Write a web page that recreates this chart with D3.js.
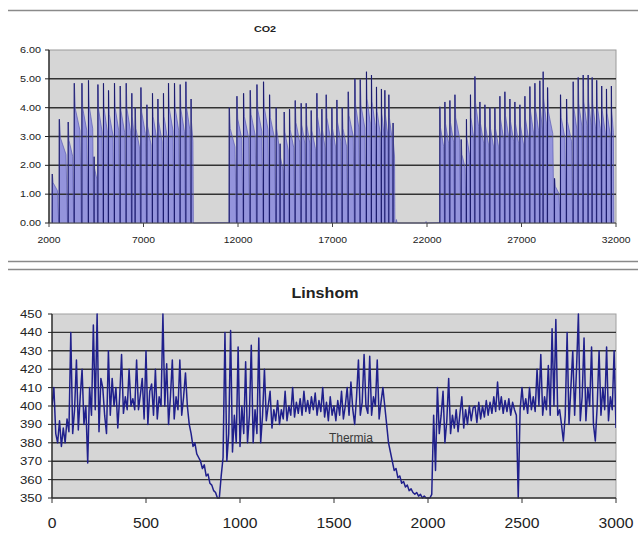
<!DOCTYPE html>
<html><head><meta charset="utf-8">
<script src="https://cdn.jsdelivr.net/npm/d3@7"></script>
<style>body{margin:0;background:#fff}svg{display:block}text{font-family:Arial,"Liberation Sans",sans-serif;fill:#222}</style>
</head><body><svg id="c" width="638" height="541"></svg>
<script>
// ---------- data: CO2 ----------
const co2Title = "CO2";
const co2XTicks = [2000, 7000, 12000, 17000, 22000, 27000, 32000];
const co2YTicks = [0, 1, 2, 3, 4, 5, 6];
const co2SpikeT = [
  2159, 2529, 3005, 3323, 3730, 4079, 4381, 4577, 4873, 5138, 5455, 5757, 6074, 6376, 6550, 6852, 7169, 7466, 7751, 8048, 8312, 8630, 8931, 9233, 9513,
  11524, 11931, 12281, 12635, 12990, 13339, 13657, 14011, 14222, 14434, 14715, 15016, 15333, 15598, 15862, 16164, 16429, 16656, 16958, 17222, 17503, 17820, 18175, 18455, 18788, 19053, 19318, 19582, 19762, 19973, 20201,
  22672, 22937, 23201, 23466, 23800, 24080, 24292, 24525, 24789, 25054, 25318, 25582, 25847, 26111, 26376, 26640, 26905, 27170, 27434, 27699, 27963, 28138, 28365, 28736, 29053, 29371, 29725, 29990, 30254, 30519, 30730, 30968, 31233, 31487, 31751
];
const co2SpikePeak = [
  1.7, 3.6, 3.5, 4.85, 4.85, 4.95, 2.3, 4.8, 4.85, 4.6, 4.85, 4.75, 4.85, 4.5, 4.0, 4.7, 4.1, 4.5, 4.3, 4.5, 4.85, 4.85, 4.8, 4.9, 4.3,
  4.0, 4.4, 4.5, 4.6, 4.8, 4.9, 4.45, 4.0, 2.75, 3.85, 3.95, 4.25, 4.15, 4.15, 3.9, 4.5, 3.95, 4.45, 4.0, 4.27, 4.0, 4.55, 5.0, 4.98, 5.25, 5.13, 4.72, 4.65, 4.6, 4.45, 3.47,
  4.03, 4.2, 4.25, 4.45, 2.9, 3.6, 4.45, 5.08, 4.2, 4.1, 4.0, 4.0, 4.4, 4.55, 4.3, 4.2, 4.1, 4.4, 4.73, 4.85, 4.93, 5.25, 4.7, 1.55, 4.45, 4.3, 4.9, 5.05, 5.13, 5.13, 5.05, 4.95, 4.75, 4.65, 4.75
];
const co2RegionEnd = [9645, 20307, 31895];
const co2BlipT = [20380, 21950];
const co2BlipV = [0.12, 0.05];

// ---------- data: Linshom ----------
const linTitle = "Linshom";
const linXTicks = [0, 500, 1000, 1500, 2000, 2500, 3000];
const linYTicks = [350, 360, 370, 380, 390, 400, 410, 420, 430, 440, 450];
const linStep = 10;
const linValues = [
  400,410,385,380,392,378,388,380,393,386,
  440,385,398,425,387,405,420,390,400,369,
  410,395,444,398,450,386,415,410,395,385,
  430,395,415,400,410,388,405,428,396,405,
  398,420,400,404,398,425,398,406,415,393,
  430,390,408,412,395,420,393,405,400,450,
  400,423,390,405,425,393,405,398,425,395,
  405,418,400,390,385,378,380,374,372,370,
  366,368,362,363,358,357,354,353,350,350,
  362,372,440,370,385,441,375,395,380,432,
  378,400,385,424,380,395,433,380,398,385,
  437,380,395,420,392,400,408,388,398,392,
  403,390,398,393,408,392,400,395,410,394,
  402,396,404,395,408,397,403,396,405,398,
  407,395,403,397,410,394,402,392,405,395,
  400,392,403,395,408,393,400,410,395,413,
  398,390,405,425,395,402,428,400,396,427,
  395,405,400,425,393,402,410,400,390,380,
  375,370,365,366,361,362,358,359,356,357,
  354,355,353,352,353,351,352,350,351,350,
  350,350,352,395,365,410,385,395,408,380,
  392,415,385,395,388,398,386,396,405,388,
  398,390,400,392,399,400,391,402,393,400,
  394,403,395,402,396,405,397,413,398,405,
  396,403,397,404,395,402,398,395,350,398,
  410,398,404,396,410,398,405,397,420,400,
  428,395,405,398,422,395,442,400,447,395,
  398,390,381,395,440,390,410,430,395,420,
  450,392,405,437,392,410,400,432,390,381,
  400,430,395,410,398,432,392,405,398,430,
  388
];
const linNote = "Thermia";
const linNoteX = 1590, linNoteY = 382.6;

// ---------- drawing ----------
const svg = d3.select("#c");
const PLOT_BG = "#d6d6d6", GRID = "#333", LINE = "#20208c";

function label(g, x, y, s, size, anchor, sx, weight) {
  g.append("text")
    .attr("transform", `translate(${x},${y}) scale(${sx},1)`)
    .attr("text-anchor", anchor)
    .attr("font-size", size)
    .attr("font-weight", weight || "normal")
    .text(s);
}

[10.5, 261.5, 269.5].forEach(y => {
  svg.append("line").attr("x1", 8).attr("x2", 638).attr("y1", y).attr("y2", y)
    .attr("stroke", "#8a8a8a").attr("stroke-width", 1.5);
});

// ===== CO2 chart =====
{
  const x = d3.scaleLinear().domain([2000, 32000]).range([49, 616]);
  const y = d3.scaleLinear().domain([0, 6]).range([223, 50]);
  const g = svg.append("g");
  g.append("rect").attr("x", 49).attr("y", 50).attr("width", 567).attr("height", 173)
    .attr("fill", PLOT_BG).attr("stroke", "#9a9a9a").attr("stroke-width", 1);

  const pts = [];
  const verticals = [];
  co2SpikeT.forEach((t, i) => {
    const regEnd = co2RegionEnd.find(e => e >= t);
    const nxt = co2SpikeT[i + 1];
    const end = (nxt !== undefined && nxt < regEnd) ? nxt : regEnd;
    const w = end - t, p = co2SpikePeak[i];
    pts.push([t, 0.02], [t + 0.05 * w, p], [t + 0.16 * w, 0.82 * p], [t + 0.78 * w, 0.66 * p], [t + 0.94 * w, 0.05]);
    if (end === regEnd) pts.push([end, 0]);
    verticals.push([t + 0.03 * w, p]);
  });
  co2BlipT.forEach((t, i) => { pts.push([t - 40, 0], [t, co2BlipV[i]], [t + 40, 0]); });
  pts.sort((a, b) => a[0] - b[0]);

  const area = d3.area().x(d => x(d[0])).y0(y(0)).y1(d => y(d[1]));
  const line = d3.line().x(d => x(d[0])).y(d => y(d[1]));
  g.append("path").datum(pts).attr("d", area).attr("fill", "#9494dc");

  g.selectAll(".gl").data(co2YTicks.filter(v => v > 0 && v < 6)).join("line")
    .attr("x1", 49).attr("x2", 616).attr("y1", d => y(d)).attr("y2", d => y(d))
    .attr("stroke", GRID).attr("stroke-width", 1.5);

  g.append("path").datum(pts).attr("d", line).attr("fill", "none")
    .attr("stroke", "#5a5ab4").attr("stroke-width", 0.7);
  g.selectAll(".sp").data(verticals).join("line")
    .attr("x1", d => x(d[0])).attr("x2", d => x(d[0]))
    .attr("y1", y(0)).attr("y2", d => y(d[1]))
    .attr("stroke", "#1c1c6e").attr("stroke-width", 1.1);

  g.append("line").attr("x1", 49).attr("x2", 49).attr("y1", 50).attr("y2", 223).attr("stroke", "#222").attr("stroke-width", 1.3);
  g.append("line").attr("x1", 49).attr("x2", 616).attr("y1", 223).attr("y2", 223).attr("stroke", "#444").attr("stroke-width", 1.2);
  co2YTicks.forEach(v => {
    g.append("line").attr("x1", 45).attr("x2", 49).attr("y1", y(v)).attr("y2", y(v)).attr("stroke", "#222");
    label(g, 41, y(v) + 3, v.toFixed(2), 9, "end", 1.2);
  });
  co2XTicks.forEach(v => {
    g.append("line").attr("x1", x(v)).attr("x2", x(v)).attr("y1", 223).attr("y2", 227).attr("stroke", "#444");
    label(g, x(v), 243, String(v), 9, "middle", 1.15);
  });
  label(g, 265, 32, co2Title, 9, "middle", 1.2, "bold");
}

// ===== Linshom chart =====
{
  const x = d3.scaleLinear().domain([0, 3000]).range([52, 616]);
  const y = d3.scaleLinear().domain([350, 450]).range([498, 314]);
  const g = svg.append("g");
  g.append("rect").attr("x", 52).attr("y", 314).attr("width", 564).attr("height", 184)
    .attr("fill", PLOT_BG).attr("stroke", "#a0a0a0").attr("stroke-width", 1);
  g.selectAll(".gl").data(linYTicks.filter(v => v > 350 && v < 450)).join("line")
    .attr("x1", 52).attr("x2", 616).attr("y1", d => y(d)).attr("y2", d => y(d))
    .attr("stroke", GRID).attr("stroke-width", 1.4);

  svg.append("clipPath").attr("id", "clipL").append("rect")
    .attr("x", 52).attr("y", 313).attr("width", 564).attr("height", 186);
  const line = d3.line().x((d, i) => x(i * linStep)).y(d => y(d));
  g.append("path").datum(linValues).attr("d", line).attr("fill", "none")
    .attr("stroke", LINE).attr("stroke-width", 1.5).attr("stroke-linejoin", "round")
    .attr("clip-path", "url(#clipL)");

  g.append("line").attr("x1", 52).attr("x2", 52).attr("y1", 314).attr("y2", 498).attr("stroke", "#222").attr("stroke-width", 1.3);
  g.append("line").attr("x1", 52).attr("x2", 616).attr("y1", 498).attr("y2", 498).attr("stroke", "#333").attr("stroke-width", 1.3);
  linYTicks.forEach(v => {
    g.append("line").attr("x1", 48).attr("x2", 52).attr("y1", y(v)).attr("y2", y(v)).attr("stroke", "#222");
    label(g, 42, y(v) + 4, String(v), 11, "end", 1.2);
  });
  linXTicks.forEach(v => {
    g.append("line").attr("x1", x(v)).attr("x2", x(v)).attr("y1", 498).attr("y2", 503).attr("stroke", "#333");
    label(g, x(v), 528, String(v), 14, "middle", 1.12);
  });
  label(g, 325, 298, linTitle, 14, "middle", 1.15, "bold");
  g.append("text").attr("x", x(linNoteX)).attr("y", y(linNoteY) + 4)
    .attr("text-anchor", "middle").attr("font-size", 12).style("fill", "#3a3a3a").text(linNote);
}
</script></body></html>
